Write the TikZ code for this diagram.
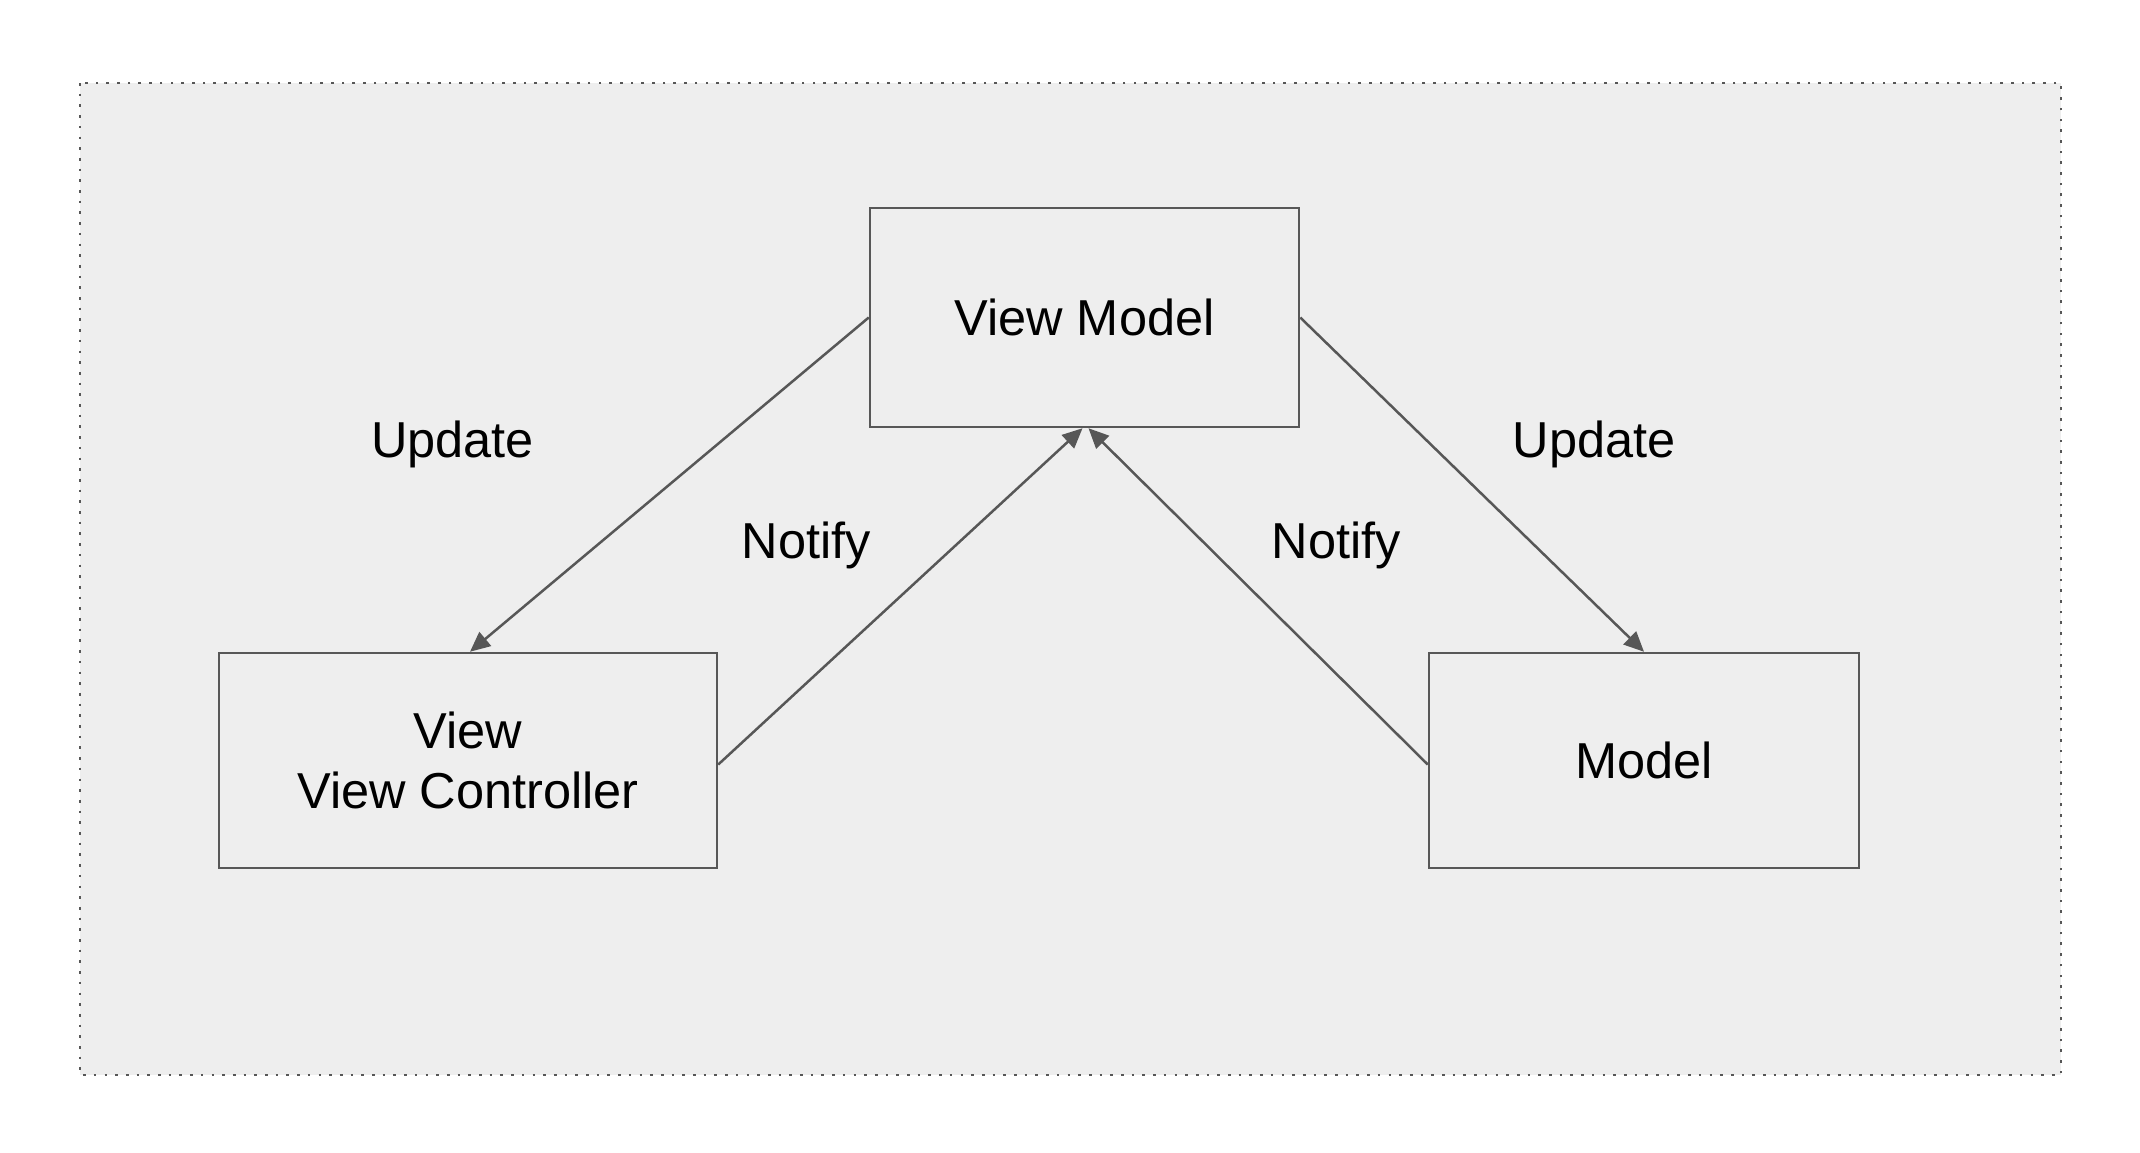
\documentclass[tikz,border=0pt]{standalone}
\usepackage{fontspec}
\setmainfont{Liberation Sans}
\usetikzlibrary{arrows.meta}
\definecolor{edgegray}{HTML}{575757}
\definecolor{panelgray}{HTML}{EEEEEE}
\tikzset{
  boxnode/.style={draw=edgegray, line width=2.5pt, inner sep=0pt, align=center,
    font=\fontsize{50.5}{60}\selectfont},
  lbl/.style={anchor=base, inner sep=0pt, font=\fontsize{50.5}{60}\selectfont},
  conn/.style={draw=edgegray, line width=2.5pt, -{Triangle[length=20pt,width=18pt]}},
}
\begin{document}
\begin{tikzpicture}[x=1pt,y=-1pt]
\useasboundingbox (0,0) rectangle (2140,1152);
\fill[white] (0,0) rectangle (2140,1152);
\draw[fill=panelgray, draw=edgegray, line width=2.6pt, dash pattern=on 2.6pt off 8.1pt] (80,83) rectangle (2061,1075);
\node[boxnode, minimum width=429pt, minimum height=219pt] (vm) at (1084.5,317.5) {View Model};
\node[boxnode, minimum width=498pt, minimum height=215pt] (view) at (468,760.5) {View\\View Controller};
\node[boxnode, minimum width=430pt, minimum height=215pt] (model) at (1644,760.5) {Model};
\draw[conn] (vm.west) -- ([xshift=2pt]view.north);
\draw[conn] (vm.east) -- (model.north);
\draw[conn] ([yshift=-4pt]view.east) -- ([xshift=-2pt]vm.south);
\draw[conn] ([yshift=-4pt]model.west) -- ([xshift=4pt]vm.south);
\node[lbl] (upl) at (452.5,457) {Update};
\node[lbl] (upr) at (1594,457) {Update};
\node[lbl] (nol) at (806.5,558) {Notify};
\node[lbl] (nor) at (1336.5,558) {Notify};
\end{tikzpicture}
\end{document}
